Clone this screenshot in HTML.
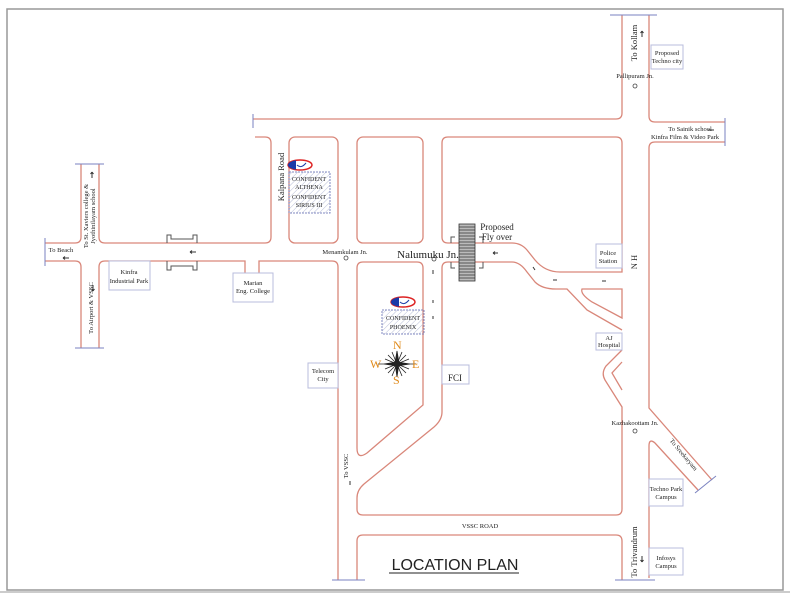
<!DOCTYPE html>
<html><head><meta charset="utf-8"><style>
html,body{margin:0;padding:0;background:#fff;}
svg{display:block;}
text{font-family:"Liberation Serif",serif;fill:#222;}
</style></head><body>
<svg width="790" height="600" viewBox="0 0 790 600" xmlns="http://www.w3.org/2000/svg">
<defs>
<pattern id="h" width="4" height="4" patternUnits="userSpaceOnUse" patternTransform="rotate(45)">
<line x1="0" y1="0" x2="0" y2="4" stroke="#b8bed8" stroke-width="1"/>
</pattern>
</defs>
<rect x="7" y="9" width="776" height="581" fill="none" stroke="#999" stroke-width="1.5"/>
<line x1="0" y1="592" x2="790" y2="592" stroke="#ccc" stroke-width="2"/>
<g fill="none" stroke="#d9877a" stroke-width="1.3">
<path d="M81 164 V237 Q81 243 75 243 H45"/>
<path d="M45 261 H75 Q81 261 81 267 V348"/>
<path d="M99 164 V237 Q99 243 105 243 H265 Q271 243 271 237 V143 Q271 137 265 137 H255"/>
<path d="M99 348 V267 Q99 261 105 261 H245 V273"/>
<path d="M259 273 V261 H332 Q338 261 338 267 V580"/>
<path d="M253 119 H616 Q622 119 622 113 V15"/>
<path d="M649 15 V116 Q649 122 655 122 H725"/>
<path d="M725 142 H655 Q649 142 649 148 V408 L712 480"/>
<path d="M698 490 L655 443 Q649 438 649 446 V578"/>
<rect x="289" y="137" width="49" height="106" rx="6"/>
<rect x="357" y="137" width="66" height="106" rx="6"/>
<path d="M448 137 H616 Q622 137 622 143 V272 H560 Q545 272 535 260 L527 250 Q521 243 512 243 H448 Q442 243 442 237 V143 Q442 137 448 137Z"/>
<path d="M363 262 H417 Q423 262 423 268 V405 L367 453 Q357 460 357 448 V268 Q357 262 363 262Z"/>
<path d="M448 262 H512 Q520 262 527 272 L535 282 Q542 289 556 289 H567 L587 310 L622 330"/>
<path d="M442 268 Q442 262 448 262 M442 268 V412 Q442 420 434 427 L364 484 Q357 490 357 498 V509 Q357 515 363 515 H616 Q622 515 622 509 V407 L605 380 Q601 373 606 366 L622 350"/>
<path d="M582 289 H622 V318 L592 302 Q580 294 582 289Z"/>
<path d="M622 362 L612 373 L622 390"/>
<path d="M357 580 V541 Q357 535 363 535 H616 Q622 535 622 541 V580"/>
</g>
<g stroke="#7a82c0" stroke-width="1" fill="none">
<line x1="75" y1="164" x2="104" y2="164"/><line x1="75" y1="348" x2="104" y2="348"/>
<line x1="45" y1="238" x2="45" y2="266"/><line x1="253" y1="114" x2="253" y2="128"/>
<line x1="610" y1="15" x2="657" y2="15"/><line x1="725" y1="118" x2="725" y2="146"/>
<line x1="332" y1="580" x2="365" y2="580"/><line x1="615" y1="580" x2="655" y2="580"/>
<line x1="695" y1="493" x2="716" y2="476"/>
</g>
<g stroke="#555" fill="none" stroke-width="1">
<path d="M167 243 V235 H171 V239 H193 V235 H197 V243"/>
<path d="M167 261 V270 H171 V266 H193 V270 H197 V261"/>
<path d="M451 243 V237 H455 M479 237 H483 V243"/>
<path d="M451 262 V268 H455 M479 268 H483 V262"/>
</g>
<g stroke="#333" stroke-width="0.8">
<rect x="459" y="224" width="16" height="57" fill="#bbb"/>
<path d="M459 227H475M459 230H475M459 233H475M459 236H475M459 239H475M459 242H475M459 245H475M459 248H475M459 251H475M459 254H475M459 257H475M459 260H475M459 263H475M459 266H475M459 269H475M459 272H475M459 275H475M459 278H475"/>
</g>
<g stroke="#333" stroke-width="1" fill="none">
<path d="M190 252 H196 M190 252 l2 -1.5 M190 252 l2 1.5"/>
<path d="M63 258 H69 M63 258 l2 -1.5 M63 258 l2 1.5"/>
<path d="M92 172 V178 M92 172 l-1.5 2 M92 172 l1.5 2"/>
<path d="M93 285 V291 M93 291 l-1.5 -2 M93 291 l1.5 -2"/>
<path d="M642 31 V37 M642 31 l-1.5 2 M642 31 l1.5 2"/>
<path d="M642 556 V562 M642 562 l-1.5 -2 M642 562 l1.5 -2"/>
<path d="M493 253 H498 M493 253 l2 -1.5 M493 253 l2 1.5"/>
<path d="M433 270 V274 M433 300 V303 M433 316 V319"/>
<path d="M533 267 l2 3 M553 280 H557 M602 281 H606"/>
<path d="M350 481 V485 M708 130 H714"/>
</g>
<g fill="#fff" stroke="#b8bcdc" stroke-width="1">
<rect x="651" y="45" width="32" height="24"/>
<rect x="109" y="261" width="41" height="29"/>
<rect x="233" y="273" width="40" height="29"/>
<rect x="596" y="244" width="26" height="24"/>
<rect x="596" y="333" width="26" height="17"/>
<rect x="308" y="363" width="30" height="25"/>
<rect x="442" y="365" width="27" height="19"/>
<rect x="649" y="479" width="34" height="27"/>
<rect x="649" y="548" width="34" height="27"/>
</g>
<rect x="289" y="172" width="41" height="41" fill="url(#h)" stroke="#8088c0" stroke-dasharray="2,1"/>
<rect x="382" y="310" width="42" height="24" fill="url(#h)" stroke="#8088c0" stroke-dasharray="2,1"/>
<g>
<ellipse cx="300" cy="165" rx="12" ry="5" fill="#fff" stroke="#d22" stroke-width="1.5"/>
<path d="M288 165 A12 5 0 0 1 296 160.3 V169.7 A12 5 0 0 1 288 165Z" fill="#1a3aa8"/>
<path d="M297 165 Q301 169 306 163" stroke="#1a3aa8" fill="none"/>
<ellipse cx="403" cy="302" rx="12" ry="5" fill="#fff" stroke="#d22" stroke-width="1.5"/>
<path d="M391 302 A12 5 0 0 1 399 297.3 V306.7 A12 5 0 0 1 391 302Z" fill="#1a3aa8"/>
<path d="M400 302 Q404 306 409 300" stroke="#1a3aa8" fill="none"/>
</g>
<g stroke="#222" stroke-width="0.8">
<path d="M397 351 L399 363 L397 377 L395 363Z M384 364 L397 362 L410 364 L397 366Z" fill="#222"/>
<path d="M388 355 L406 373 M406 355 L388 373 M392 352 L402 376 M402 352 L392 376 M385 359 L409 369 M385 369 L409 359"/>
<line x1="378" y1="364" x2="416" y2="364"/>
</g>
<g font-size="12">
<text x="393" y="349" style="fill:#e08a1a">N</text>
<text x="370" y="368" style="fill:#e08a1a">W</text>
<text x="412" y="368" style="fill:#e08a1a">E</text>
<text x="393" y="384" style="fill:#e08a1a">S</text>
</g>
<g fill="none" stroke="#444" stroke-width="0.8">
<circle cx="346" cy="258" r="2"/><circle cx="434" cy="259" r="2"/>
<circle cx="635" cy="86" r="2"/><circle cx="635" cy="431" r="2"/>
</g>
<g font-size="6.5" text-anchor="middle">
<text x="667" y="55">Proposed</text><text x="667" y="63">Techno city</text>
<text x="635" y="78">Pallipuram Jn.</text>
<text x="690" y="131">To Sainik school</text><text x="685" y="139">Kinfra Film &amp; Video Park</text>
<text x="61" y="252">To Beach</text>
<text x="129" y="274">Kinfra</text><text x="129" y="283">Industrial Park</text>
<text x="253" y="285">Marian</text><text x="253" y="293">Eng. College</text>
<text x="345" y="254">Menamkulam Jn.</text>
<text x="608" y="255">Police</text><text x="608" y="263">Station</text>
<text x="609" y="340">AJ</text><text x="609" y="347">Hospital</text>
<text x="323" y="373">Telecom</text><text x="323" y="381">City</text>
<text x="635" y="425">Kazhakoottam Jn.</text>
<text x="666" y="491">Techno Park</text><text x="666" y="499">Campus</text>
<text x="666" y="560">Infosys</text><text x="666" y="568">Campus</text>
<text x="480" y="528">VSSC  ROAD</text>
</g>
<g font-size="6" text-anchor="middle">
<text x="309" y="181">CONFIDENT</text><text x="309" y="189">ALTHENA</text>
<text x="309" y="199">CONFIDENT</text><text x="309" y="207">SIRIUS III</text>
<text x="403" y="320">CONFIDENT</text><text x="403" y="329">PHOENIX</text>
</g>
<text x="455" y="381" font-size="9" text-anchor="middle">FCI</text>
<text x="428" y="258" font-size="11" text-anchor="middle">Nalumuku Jn.</text>
<text x="497" y="230" font-size="9" text-anchor="middle">Proposed</text>
<text x="497" y="240" font-size="9" text-anchor="middle">Fly over</text>
<g font-size="8.5" text-anchor="middle">
<text transform="translate(284,177) rotate(-90)">Kalpana Road</text>
<text transform="translate(637,43) rotate(-90)">To Kollam</text>
<text transform="translate(637,552) rotate(-90)">To Trivandrum</text>
<text transform="translate(637,262) rotate(-90)">N H</text>
</g>
<g font-size="6.5" text-anchor="middle">
<text transform="translate(88,216) rotate(-90)">To St. Xaviers college &amp;</text>
<text transform="translate(95,216) rotate(-90)">Jyothinilayam school</text>
<text transform="translate(93,308) rotate(-90)">To Airport &amp; VSSC</text>
<text transform="translate(348,466) rotate(-90)">To VSSC</text>
<text transform="translate(682,456) rotate(50)">To Sreekaryam</text>
</g>
<text x="455" y="570" font-size="16" text-anchor="middle" style="font-family:'Liberation Sans',sans-serif">LOCATION PLAN</text>
<line x1="389" y1="573" x2="519" y2="573" stroke="#222" stroke-width="1"/>
</svg>
</body></html>
